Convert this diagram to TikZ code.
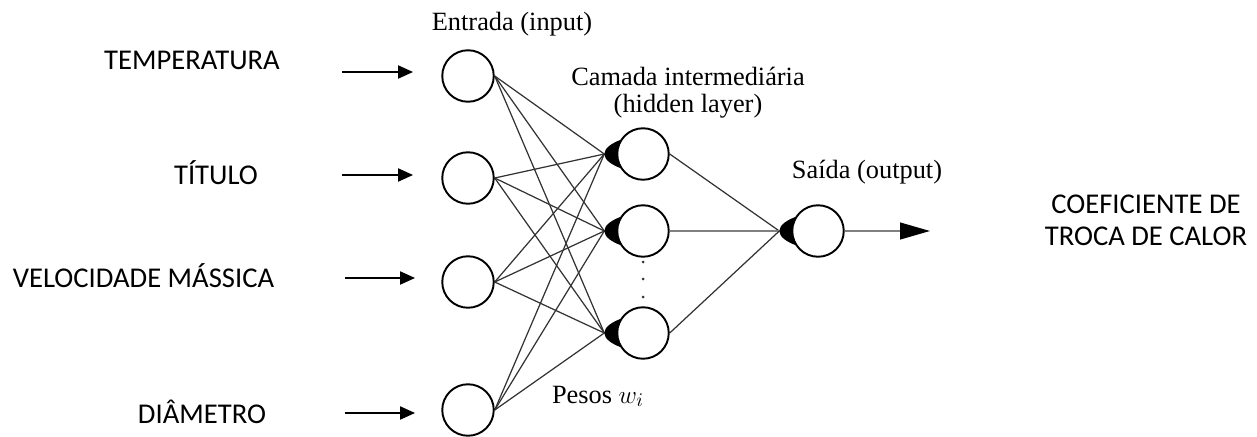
\documentclass[tikz,border=0pt]{standalone}
\usepackage{fontspec}
\setmainfont{Liberation Serif}
\newfontfamily\calib{Carlito}
\usetikzlibrary{arrows.meta,calc,backgrounds}
\tikzset{
  wmark/.pic={\fill[black] (4,-14) .. controls (-4,-11) and (-12,-6) .. (-12,0) .. controls (-12,6) and (-4,11) .. (4,14) -- cycle;}
}
\begin{document}
\begin{tikzpicture}[x=0.02cm,y=-0.02cm,
  neuron/.style={circle,draw=black,line width=1.1pt,fill=white,minimum size=1.03cm,inner sep=0pt},
  conn/.style={line width=0.7pt,black!80},
  lab/.style={font=\calib\fontsize{16.3}{18}\selectfont,anchor=base,inner sep=0pt},
  slab/.style={font=\fontsize{15}{15}\selectfont,anchor=base,inner sep=0pt,align=center},
  inarrow/.style={line width=0.8pt,-{Triangle[length=8.5pt,width=7.5pt]}},
  dot/.style={circle,fill=black!80,inner sep=0pt,minimum size=0.06cm}
]
\useasboundingbox (0,0) rectangle (1257,436);

% neurons
\node[neuron] (i1) at (468,76) {};
\node[neuron] (i2) at (468,178) {};
\node[neuron] (i3) at (468,282) {};
\node[neuron] (i4) at (468,410) {};
\node[neuron] (h1) at (643,154) {};
\node[neuron] (h2) at (643,231) {};
\node[neuron] (h3) at (643,333) {};
\node[neuron] (o) at (818,231) {};

% weight tips
\coordinate (h1t) at ($(h1.west)+(-12,0)$);
\coordinate (h2t) at ($(h2.west)+(-12,0)$);
\coordinate (h3t) at ($(h3.west)+(-12,0)$);
\coordinate (ot) at ($(o.west)+(-12,0)$);

\begin{scope}[on background layer]
  \foreach \i in {i1,i2,i3,i4} {
    \foreach \t in {h1t,h2t,h3t} { \draw[conn] (\i.east) -- (\t); }
  }
  \draw[conn] (h1.east) -- (ot);
  \draw[line width=1.2pt,black!50] (h2.east) -- (ot);
  \draw[conn] (h3.east) -- (ot);
  \foreach \h in {h1,h2,h3,o} { \pic at (\h.west) {wmark}; }
\end{scope}

% dots between hidden neurons
\node[dot] (d1) at (643,262) {};
\node[dot] (d2) at (643,279) {};
\node[dot] (d3) at (643,297) {};

% output arrow
\coordinate (oend) at (930,231);
\draw[line width=1.1pt,black!50,-{Triangle[length=17pt,width=9.5pt,black]}] (o.east) -- (oend);

% input arrows
\coordinate (a1s) at (342,72);  \coordinate (a1e) at (413,72);
\coordinate (a2s) at (342,175); \coordinate (a2e) at (413,175);
\coordinate (a3s) at (345,278); \coordinate (a3e) at (415,278);
\coordinate (a4s) at (345,413); \coordinate (a4e) at (415,413);
\draw[inarrow] (a1s) -- (a1e);
\draw[inarrow] (a2s) -- (a2e);
\draw[inarrow] (a3s) -- (a3e);
\draw[inarrow] (a4s) -- (a4e);

% labels
\node[lab] (t1) at (192,69) {TEMPERATURA};
\node[lab] (t2) at (216,184) {TÍTULO};
\node[lab] (t3) at (143.5,287) {VELOCIDADE MÁSSICA};
\node[lab] (t4) at (202,423) {DIÂMETRO};
\node[font=\calib\fontsize{16.3}{18}\selectfont,align=center,inner sep=0pt] (tout) at (1146,220) {COEFICIENTE DE\\TROCA DE CALOR};

\node[slab] (lin) at (512,31) {Entrada (input)};
\node[slab] (lhid) at (688,112) {Camada intermediária\\(hidden layer)};
\node[slab] (lout) at (867,178) {Saída (output)};
\node[slab] (lw) at (598,403) {Pesos $w_i$};
\end{tikzpicture}
\end{document}
